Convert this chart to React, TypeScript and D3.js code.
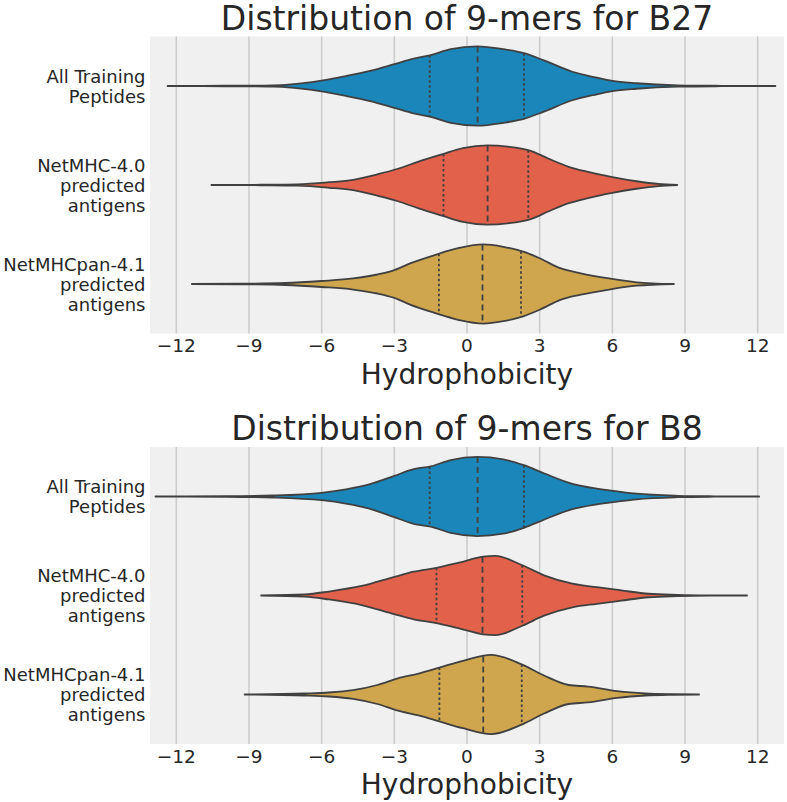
import { useRef, useEffect } from 'react';
import * as d3 from 'd3';

var CATEGORIES = ['All Training\nPeptides', 'NetMHC-4.0\npredicted\nantigens', 'NetMHCpan-4.1\npredicted\nantigens'];
var COLORS = ['#1b86ba', '#e2614a', '#cfa64e'];
var X_TICKS = [-12, -9, -6, -3, 0, 3, 6, 9, 12];
var TITLES = ['Distribution of 9-mers for B27', 'Distribution of 9-mers for B8'];
var X_LABEL = 'Hydrophobicity';

// violin outlines: support values and relative density (1 = widest)
var B27_TRAIN_X = [-12.36, -10, -8.0, -6.4, -5.0, -4.0, -3.0, -2.2, -1.5, -0.67, 0.42, 1.5, 2.35, 3.2, 4.35, 5.36, 6.0, 7.0, 8.7, 10.5, 12.73];
var B27_TRAIN_D = [0, 0.006, 0.018, 0.1, 0.25, 0.38, 0.55, 0.69, 0.78, 0.93, 1.0, 0.93, 0.83, 0.64, 0.36, 0.21, 0.13, 0.07, 0.018, 0.005, 0];
var B27_TRAIN_Q = [-1.54, 0.44, 2.35];

var B27_NETMHC_X = [-10.55, -8.5, -7.0, -5.7, -4.7, -3.7, -2.85, -2.0, -1.0, -0.17, 0.84, 1.68, 2.6, 3.35, 4.2, 5.0, 6.0, 7.0, 7.9, 8.68];
var B27_NETMHC_D = [0, 0.006, 0.018, 0.07, 0.13, 0.27, 0.41, 0.59, 0.78, 0.93, 1.0, 0.97, 0.87, 0.67, 0.46, 0.33, 0.2, 0.095, 0.026, 0];
var B27_NETMHC_Q = [-0.97, 0.85, 2.53];

var B27_PAN_X = [-11.36, -9.5, -7.5, -6.0, -4.7, -3.7, -3.0, -2.35, -1.34, -0.33, 0.67, 1.5, 2.35, 3.0, 3.85, 4.7, 5.86, 7.0, 8.54];
var B27_PAN_D = [0, 0.006, 0.025, 0.076, 0.14, 0.24, 0.35, 0.52, 0.73, 0.91, 1.0, 0.94, 0.81, 0.65, 0.4, 0.27, 0.14, 0.043, 0];
var B27_PAN_Q = [-1.16, 0.64, 2.23];

var B8_TRAIN_X = [-12.86, -10, -8.0, -6.0, -5.0, -4.0, -3.0, -2.2, -1.5, -0.67, 0.42, 1.5, 2.35, 3.2, 4.35, 5.36, 6.2, 7.0, 8.7, 10.2, 12.06];
var B8_TRAIN_D = [0, 0.006, 0.025, 0.094, 0.18, 0.31, 0.52, 0.69, 0.76, 0.92, 1.0, 0.94, 0.79, 0.58, 0.32, 0.2, 0.13, 0.07, 0.018, 0.005, 0];
var B8_TRAIN_Q = [-1.54, 0.44, 2.35];

var B8_NETMHC_X = [-8.5, -6.7, -5.7, -4.35, -3.0, -2.2, -1.26, -0.33, 0.67, 1.17, 2.26, 3.18, 4.35, 5.36, 6.36, 7.5, 8.7, 10.0, 11.56];
var B8_NETMHC_D = [0, 0.026, 0.1, 0.24, 0.47, 0.6, 0.7, 0.83, 0.98, 1.0, 0.77, 0.51, 0.3, 0.21, 0.13, 0.044, 0.018, 0.005, 0];
var B8_NETMHC_Q = [-1.26, 0.64, 2.28];

var B8_PAN_X = [-9.18, -6.7, -5.7, -4.7, -3.7, -2.85, -2.0, -1.14, -0.17, 1.0, 2.26, 3.18, 4.2, 5.0, 6.2, 7.37, 8.5, 9.58];
var B8_PAN_D = [0, 0.025, 0.05, 0.11, 0.24, 0.41, 0.53, 0.68, 0.85, 1.0, 0.76, 0.48, 0.24, 0.2, 0.084, 0.025, 0.006, 0];
var B8_PAN_Q = [-1.14, 0.67, 2.26];

var PANELS = [
  [
    { xs: B27_TRAIN_X, ds: B27_TRAIN_D, q: B27_TRAIN_Q },
    { xs: B27_NETMHC_X, ds: B27_NETMHC_D, q: B27_NETMHC_Q },
    { xs: B27_PAN_X, ds: B27_PAN_D, q: B27_PAN_Q }
  ],
  [
    { xs: B8_TRAIN_X, ds: B8_TRAIN_D, q: B8_TRAIN_Q },
    { xs: B8_NETMHC_X, ds: B8_NETMHC_D, q: B8_NETMHC_Q },
    { xs: B8_PAN_X, ds: B8_PAN_D, q: B8_PAN_Q }
  ]
];

var FONT = "'DejaVu Sans', sans-serif";
var TEXT = '#262626';
var EDGE = '#404040';

function drawPanel(svg, idx, top) {
  var left = 150, right = 784, h = 297;
  var bottom = top + h;
  var violins = PANELS[idx];

  var x = d3.scaleLinear().domain([-13.086, 13.086]).range([left, right]);
  var y = d3.scaleBand().domain(CATEGORIES).range([top, bottom]).padding(0);
  var half = y.bandwidth() * 0.4;

  var g = svg.append('g');

  g.append('rect')
    .attr('x', left).attr('y', top)
    .attr('width', right - left).attr('height', h)
    .attr('fill', '#f0f0f0');

  // Grid
  X_TICKS.forEach(function (t) {
    g.append('line')
      .attr('x1', x(t)).attr('x2', x(t))
      .attr('y1', top).attr('y2', bottom)
      .attr('stroke', '#cbcbcb')
      .attr('stroke-width', 1.5);
  });

  // Violins
  violins.forEach(function (v, i) {
    var cy = y(CATEGORIES[i]) + y.bandwidth() / 2;
    var pts = v.xs.map(function (xv, k) { return { x: xv, d: v.ds[k] }; });

    var area = d3.area()
      .x(function (d) { return x(d.x); })
      .y0(function (d) { return cy - d.d * half; })
      .y1(function (d) { return cy + d.d * half; })
      .curve(d3.curveMonotoneX);

    g.append('path')
      .attr('d', area(pts))
      .attr('fill', COLORS[i])
      .attr('stroke', EDGE)
      .attr('stroke-width', 1.8)
      .attr('stroke-linejoin', 'round');

    var dens = d3.scaleLinear().domain(v.xs).range(v.ds);
    v.q.forEach(function (qv, k) {
      var w = dens(qv) * half;
      g.append('line')
        .attr('x1', x(qv)).attr('x2', x(qv))
        .attr('y1', cy - w).attr('y2', cy + w)
        .attr('stroke', EDGE)
        .attr('stroke-width', 1.8)
        .attr('stroke-dasharray', k === 1 ? '6,4' : '2.5,2.5');
    });

    // y label
    var lines = CATEGORIES[i].split('\n');
    var txt = g.append('text')
      .attr('text-anchor', 'end')
      .attr('font-family', FONT)
      .attr('font-size', '18px')
      .attr('fill', TEXT);
    lines.forEach(function (ln, k) {
      txt.append('tspan')
        .attr('x', 145.5)
        .attr('y', cy + 6.5 + (k - (lines.length - 1) / 2) * 20)
        .text(ln);
    });
  });

  // x tick labels
  X_TICKS.forEach(function (t) {
    g.append('text')
      .attr('x', x(t))
      .attr('y', bottom + 18.5)
      .attr('text-anchor', 'middle')
      .attr('font-family', FONT)
      .attr('font-size', '18.5px')
      .attr('fill', TEXT)
      .text(d3.format('d')(t));
  });

  g.append('text')
    .attr('x', (left + right) / 2)
    .attr('y', bottom + 50)
    .attr('text-anchor', 'middle')
    .attr('font-family', FONT)
    .attr('font-size', '28px')
    .attr('fill', TEXT)
    .text(X_LABEL);

  g.append('text')
    .attr('x', (left + right) / 2)
    .attr('y', top - 7)
    .attr('text-anchor', 'middle')
    .attr('font-family', FONT)
    .attr('font-size', '33px')
    .attr('fill', TEXT)
    .text(TITLES[idx]);
}

export default function App() {
  var svgRef = useRef(null);

  useEffect(function () {
    var svg = d3.select(svgRef.current);
    svg.selectAll('*').remove();
    svg.append('rect').attr('width', 787).attr('height', 802).attr('fill', '#ffffff');
    drawPanel(svg, 0, 36.5);
    drawPanel(svg, 1, 447);
  }, []);

  return (
    <svg
      ref={svgRef}
      width={787}
      height={802}
      style={{ position: 'absolute', left: 0, top: 0 }}
    />
  );
}
